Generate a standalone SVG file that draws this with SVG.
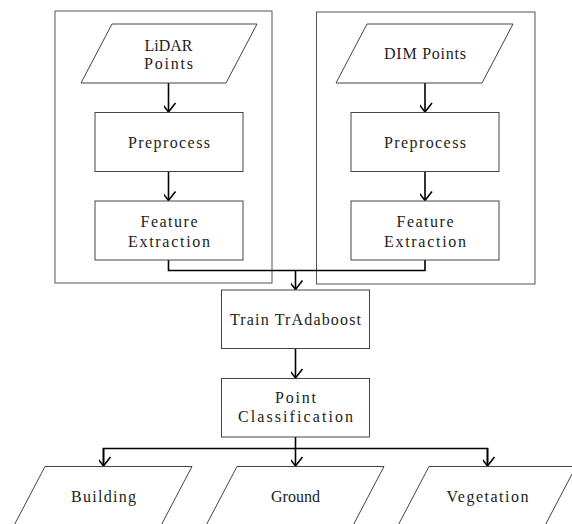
<svg xmlns="http://www.w3.org/2000/svg" width="572" height="524" viewBox="0 0 572 524">
<style>
.bg{fill:#ffffff}
.container{fill:none;stroke:#555555;stroke-width:1}
.node{fill:#ffffff;stroke:#444444;stroke-width:1}
.conn{fill:none;stroke:#000000;stroke-width:1.6}
text{font-family:"Liberation Serif","DejaVu Serif",serif;font-size:16px;fill:#222222;text-anchor:middle}
</style>
<defs>
<marker id="arr" markerUnits="userSpaceOnUse" markerWidth="20" markerHeight="20" viewBox="-10 -12 20 14" refX="0" refY="0" orient="auto-start-reverse">
<path d="M-9,-7 L0,0 L-9,7" fill="none" stroke="#000000" stroke-width="1.6"/>
</marker>
</defs>
<rect class="bg" x="0" y="0" width="572" height="524"/>
<g id="container-lidar"><rect class="container" x="55" y="11" width="217" height="272"/></g>
<g id="container-dim"><rect class="container" x="316.5" y="12" width="218.5" height="272"/></g>
<g id="connectors">
<path class="conn" d="M168.5,83 V112" marker-end="url(#arr)"/>
<path class="conn" d="M168.5,171.5 V200.5" marker-end="url(#arr)"/>
<path class="conn" d="M425,83 V112" marker-end="url(#arr)"/>
<path class="conn" d="M425,171.5 V200.5" marker-end="url(#arr)"/>
<path class="conn" d="M168.5,260 V270.5 H425 V260"/>
<path class="conn" d="M295.5,270.5 V289.5" marker-end="url(#arr)"/>
<path class="conn" d="M295.5,348.5 V378" marker-end="url(#arr)"/>
<path class="conn" d="M295.5,437 V448.5"/>
<path class="conn" d="M103.5,466 V448.5 H487.5 V466"/>
<path class="conn" d="M103.5,448.5 V466" marker-end="url(#arr)"/>
<path class="conn" d="M295.5,448.5 V466" marker-end="url(#arr)"/>
<path class="conn" d="M487.5,448.5 V466" marker-end="url(#arr)"/>
</g>
<g id="lidar-points"><polygon class="node" points="112,24 257,24 226,83 81,83"/><text x="168.5" y="50.5">LiDAR</text><text x="168.5" y="68.5" textLength="49" lengthAdjust="spacing">Points</text></g>
<g id="lidar-preprocess"><rect class="node" x="95" y="112.5" width="148" height="59"/><text x="169" y="147.5" textLength="82" lengthAdjust="spacing">Preprocess</text></g>
<g id="lidar-feature"><rect class="node" x="95" y="201" width="148" height="59"/><text x="169" y="226.5" textLength="57" lengthAdjust="spacing">Feature</text><text x="169" y="246.5" textLength="82" lengthAdjust="spacing">Extraction</text></g>
<g id="dim-points"><polygon class="node" points="367,24 513,24 482,83 336,83"/><text x="425" y="58.5" textLength="82" lengthAdjust="spacing">DIM Points</text></g>
<g id="dim-preprocess"><rect class="node" x="351" y="112.5" width="148" height="59"/><text x="425" y="147.5" textLength="82" lengthAdjust="spacing">Preprocess</text></g>
<g id="dim-feature"><rect class="node" x="351" y="201" width="148" height="59"/><text x="425" y="226.5" textLength="57" lengthAdjust="spacing">Feature</text><text x="425" y="246.5" textLength="82" lengthAdjust="spacing">Extraction</text></g>
<g id="train"><rect class="node" x="221.5" y="290" width="148" height="58.5"/><text x="295.5" y="324.5" textLength="131" lengthAdjust="spacing">Train TrAdaboost</text></g>
<g id="classify"><rect class="node" x="221.5" y="378.5" width="148" height="58.5"/><text x="295.5" y="403" textLength="41" lengthAdjust="spacing">Point</text><text x="295.5" y="422" textLength="115" lengthAdjust="spacing">Classification</text></g>
<g id="building"><polygon class="node" points="45,466.5 192,466.5 161,525.5 14,525.5"/><text x="103.5" y="502" textLength="65" lengthAdjust="spacing">Building</text></g>
<g id="ground"><polygon class="node" points="237,466.5 384,466.5 353,525.5 206,525.5"/><text x="295.5" y="502" textLength="49" lengthAdjust="spacing">Ground</text></g>
<g id="vegetation"><polygon class="node" points="429,466.5 576,466.5 545,525.5 398,525.5"/><text x="487.5" y="502" textLength="82" lengthAdjust="spacing">Vegetation</text></g>
</svg>
